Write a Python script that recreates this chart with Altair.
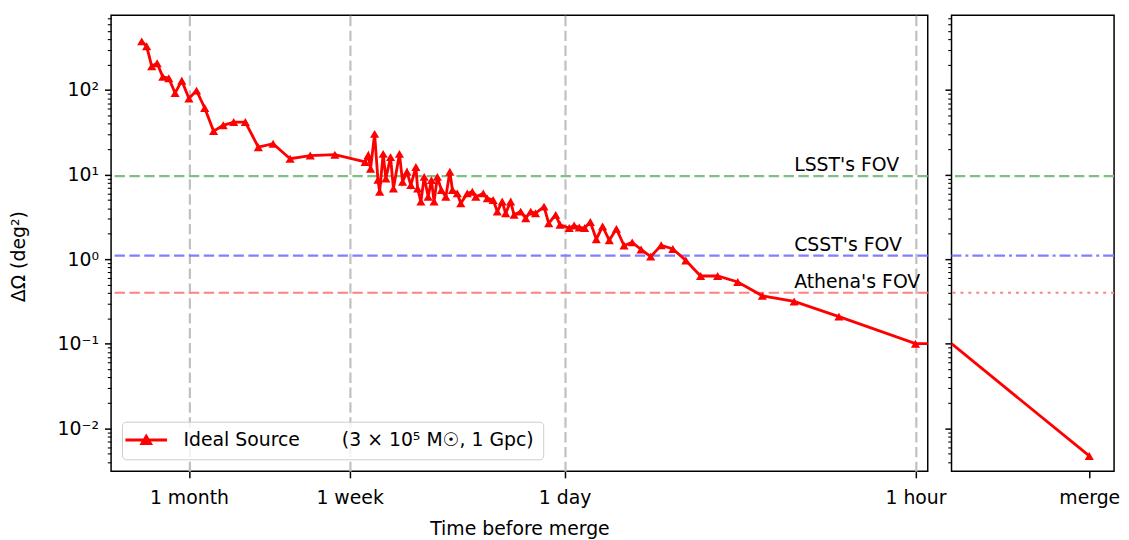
import altair as alt
import pandas as pd

# ---------------- data ----------------
# Ideal source: time before merger (hours) and sky-localisation area (deg^2)
time_hours = [1104, 1056, 1008, 960, 912, 864, 816, 768, 720, 672,
              624, 576, 528, 480, 432, 384, 336, 288, 240, 192,
              146, 142, 139, 134, 130, 128, 124, 121, 116, 113,
              107, 104, 100, 96.5, 92.2, 90.8, 88.1, 85.5, 82.5, 80.1,
              78.2, 75.9, 73.2, 70.3, 67.8, 66.2, 63.4, 61.4, 57.9, 55.3,
              53.6, 50.1, 48.3, 45.8, 44.1, 42.2, 40.9, 39.1, 37.9, 35.7,
              34.1, 32.6, 31.2, 28.9, 27.7, 26.0, 25, 23, 22, 21,
              20, 19, 18, 17, 16, 15, 14, 13, 12, 11,
              10, 9, 8, 7, 6, 5, 4, 3, 2, 1]
area_deg2 = [376, 329, 191, 207, 143, 138, 92, 129, 79.3, 98.4,
             61.4, 32.7, 38.3, 41.8, 41.8, 21.1, 23.2, 15.4, 16.8, 17.2,
             14.1, 17.0, 11.7, 30.3, 8.67, 6.27, 17.6, 8.98, 16.1, 6.85,
             17.6, 8.21, 10.8, 7.51, 12.3, 6.85, 4.79, 9.40, 5.48, 8.60,
             4.79, 9.40, 6.56, 5.48, 10.8, 6.56, 5.99, 4.57, 5.99, 6.27,
             5.48, 5.99, 5.23, 5.01, 3.65, 4.79, 3.49, 4.79, 3.34, 3.65,
             3.05, 3.65, 3.49, 4.18, 2.66, 3.34, 2.55, 2.33, 2.50, 2.37,
             2.33, 2.75, 1.72, 2.44, 1.67, 2.28, 1.45, 1.58, 1.30, 1.07,
             1.46, 1.32, 0.965, 0.632, 0.632, 0.537, 0.368, 0.316, 0.209, 0.1]

# line continues flat past the 1-hour point to the panel edge
tail_time = [0.5]
tail_area = [0.1]

# right panel: last hour -> merger
merge_pos = [0, 1]
merge_area = [0.1, 0.0047]
merge_marker = [False, True]

# fields of view
fov_names = ["LSST's FOV", "CSST's FOV", "Athena's FOV"]
fov_area = [9.6, 1.1, 0.4]
fov_label_time = [3, 3, 3]

# ticks
xtick_hours = [720, 168, 24, 1]
xtick_labels = ["1 month", "1 week", "1 day", "1 hour"]
merge_tick = [1]
merge_tick_label = ["merge"]
ytick_values = [0.01, 0.1, 1, 10, 100]
ytick_labels = ["10\u207b\u00b2", "10\u207b\u00b9", "10\u2070", "10\u00b9", "10\u00b2"]

series_label = "Ideal Source" + "\u00a0" * 7 + "(3 \u00d7 10\u2075 M\u2609, 1 Gpc)"

# ---------------- styles ----------------
FONT = "DejaVu Sans"
FS = 19
fov_colors = ["#80c080", "#8080ff", "#ff8080"]
right_dashes = [[10.5, 4.5], [11, 4, 3, 4], [3, 5]]
X_DOMAIN = [0.895, 1457]
Y_DOMAIN = [0.0031, 765]
W_LEFT, W_RIGHT, H = 824, 164, 460

y_minor = [m * 10 ** k for k in range(-3, 3) for m in range(2, 10)
           if Y_DOMAIN[0] <= m * 10 ** k <= Y_DOMAIN[1]]
y_all = sorted(ytick_values + y_minor)
major_test = "indexof([" + ",".join(str(v) for v in ytick_values) + "], datum.value) >= 0"

ylabel_expr = "''"
for v, l in zip(ytick_values, ytick_labels):
    ylabel_expr = f"datum.value === {v} ? '{l}' : " + ylabel_expr
xlabel_expr = "''"
for v, l in zip(xtick_hours, xtick_labels):
    xlabel_expr = f"datum.value === {v} ? '{l}' : " + xlabel_expr
mlabel_expr = "''"
for v, l in zip(merge_tick, merge_tick_label):
    mlabel_expr = f"datum.value === {v} ? '{l}' : " + mlabel_expr

tick_size = {"condition": {"test": major_test, "value": 6.65}, "value": 3.8}
tick_width = {"condition": {"test": major_test, "value": 1.5}, "value": 1.1}

y_scale = alt.Scale(type="log", domain=Y_DOMAIN, nice=False)
x_scale = alt.Scale(type="log", domain=X_DOMAIN, nice=False, reverse=True)

y_axis_left = alt.Axis(values=y_all, labelExpr=ylabel_expr, tickSize=tick_size,
                       tickWidth=tick_width, title="\u0394\u03a9 (deg\u00b2)",
                       labelPadding=6, titlePadding=29, titleY=243, grid=False)
y_axis_right = alt.Axis(values=y_all, labels=False, tickSize=tick_size,
                        tickWidth=tick_width, title=None, grid=False)
x_axis_left = alt.Axis(values=xtick_hours, labelExpr=xlabel_expr, tickSize=6.65,
                       tickWidth=1.5, labelPadding=11, title="Time before merge",
                       titlePadding=12, grid=True, gridDash=[10.5, 4.5],
                       gridColor="#c0c0c0", gridWidth=2.2, labelFlush=False)

# ---------------- tables ----------------
series_df = pd.DataFrame({"t": time_hours, "area": area_deg2, "series": series_label})
line_df = pd.concat([series_df, pd.DataFrame({"t": tail_time, "area": tail_area,
                                                "series": series_label})])
fov_df = pd.DataFrame({"name": fov_names, "area": fov_area, "t": fov_label_time,
                       "color": fov_colors})
merge_df = pd.DataFrame({"pos": merge_pos, "area": merge_area, "marker": merge_marker})

legend_symbol = "M-3,0L3,0M-0.62,0.5L0,-0.55L0.62,0.5Z"

# ---------------- left panel ----------------
left_x = alt.X("t:Q", scale=x_scale, axis=x_axis_left)
left_y = alt.Y("area:Q", scale=y_scale, axis=y_axis_left)

fov_rules = alt.Chart(fov_df).mark_rule(strokeDash=[10.5, 4.5], strokeWidth=2.2).encode(
    y=alt.Y("area:Q", scale=y_scale, axis=y_axis_left),
    color=alt.Color("color:N", scale=None),
)
fov_text = alt.Chart(fov_df).mark_text(align="left", baseline="alphabetic", dy=-5,
                                       fontSize=FS, font=FONT, color="black").encode(
    x=left_x, y=left_y, text="name:N")

series_line = alt.Chart(line_df).mark_line(strokeWidth=2.85, clip=True).encode(
    x=left_x, y=left_y,
    color=alt.Color("series:N", scale=alt.Scale(domain=[series_label], range=["red"]),
                    legend=alt.Legend(title=None, orient="none", legendX=11, legendY=410,
                                      symbolType=legend_symbol, symbolSize=196,
                                      symbolStrokeWidth=2.85, symbolFillColor="red",
                                      symbolStrokeColor="red", symbolOffset=6,
                                      labelOffset=28, labelFont=FONT, labelFontSize=FS,
                                      labelColor="black", labelLimit=0, padding=9,
                                      fillColor="rgba(255,255,255,0.8)",
                                      strokeColor="#cccccc", cornerRadius=4)),
)
series_pts = alt.Chart(series_df).mark_point(shape="triangle-up", filled=True, size=85,
                                              color="red", opacity=1, clip=True).encode(
    x=left_x, y=left_y)

left = alt.layer(fov_rules, series_line, series_pts, fov_text).properties(
    width=W_LEFT, height=H)

# ---------------- right panel ----------------
r_x = alt.X("pos:Q", scale=alt.Scale(domain=[0, 1.18], nice=False, zero=False),
            axis=alt.Axis(values=merge_tick, labelExpr=mlabel_expr, tickSize=6.65,
                          tickWidth=1.5, labelPadding=11, title=None, grid=False,
                          labelFlush=False))
r_y = alt.Y("area:Q", scale=y_scale, axis=y_axis_right)

r_rules = []
for i in range(len(fov_names)):
    r_rules.append(
        alt.Chart(fov_df).transform_filter(alt.datum.name == fov_names[i])
        .mark_rule(strokeDash=right_dashes[i], strokeWidth=2.2, color=fov_colors[i])
        .encode(y=r_y)
    )
r_line = alt.Chart(merge_df).mark_line(color="red", strokeWidth=2.85, clip=True).encode(
    x=r_x, y=r_y)
r_pts = alt.Chart(merge_df).transform_filter(alt.datum.marker).mark_point(
    shape="triangle-up", filled=True, size=85, color="red", opacity=1).encode(x=r_x, y=r_y)

right = alt.layer(*r_rules, r_line, r_pts).properties(width=W_RIGHT, height=H)

chart = (
    alt.hconcat(left, right, spacing=24, bounds="flush")
    .resolve_scale(color="independent", x="independent", y="independent")
    .configure(font=FONT, padding={"left": 0, "top": 4, "right": 0, "bottom": 0})
    .configure_view(stroke="black", strokeWidth=1.5)
    .configure_axis(domain=False, labelFont=FONT, labelFontSize=FS, labelColor="black",
                    titleFont=FONT, titleFontSize=FS, titleFontWeight="normal",
                    titleColor="black", tickColor="black")
)

chart.save("out.html", embed_options={"renderer": "svg", "actions": False})
